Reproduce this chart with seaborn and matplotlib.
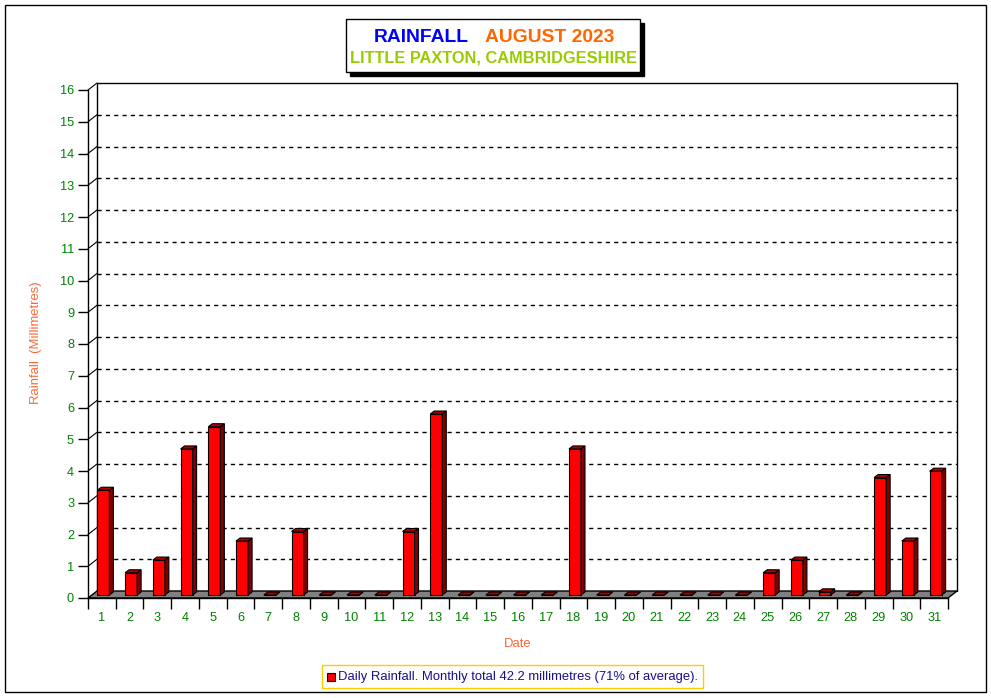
import numpy as np
import pandas as pd
import seaborn as sns
import matplotlib.pyplot as plt
from matplotlib.patches import Polygon, Rectangle

# daily rainfall, August 2023 (mm)
days = list(range(1, 32))
rain = [3.3, 0.7, 1.1, 4.6, 5.3, 1.7, 0.0, 2.0, 0.0, 0.0, 0.0, 2.0, 5.7, 0.0, 0.0, 0.0,
        0.0, 4.6, 0.0, 0.0, 0.0, 0.0, 0.0, 0.0, 0.7, 1.1, 0.1, 0.0, 3.7, 1.7, 3.9]
yticks = list(range(0, 17))
title_main = "RAINFALL"
title_month = "AUGUST 2023"
title_place = "LITTLE PAXTON, CAMBRIDGESHIRE"
legend_text = "Daily Rainfall. Monthly total 42.2 millimetres (71% of average)."
ylabel = "Rainfall  (Millimetres)"
xlabel = "Date"

sns.set_theme(style="white")
plt.rcParams['font.family'] = ['Liberation Sans', 'DejaVu Sans']

W, H = 991, 698
fig = plt.figure(figsize=(W / 100, H / 100), dpi=100)
fig.patch.set_facecolor("white")

def fx(x):
  return x / W

def fy(y):
  return 1 - y / H

# front face of the plot in pixels
L, R, B, T = 88, 948, 598, 90
ax = fig.add_axes([fx(L), fy(B), (R - L) / W, (B - T) / H])
ax.set_facecolor("none")
nx = len(days)
ax.set_xlim(-0.5, nx - 0.5)
ax.set_ylim(0, 16)
px = nx / (R - L)   # data units per pixel
py = 16 / (B - T)
wx, wy = 9 * px, 7 * py   # wall depth
bx, by = 4 * px, 3 * py   # bar depth

df = pd.DataFrame({"day": days, "rain": rain})
sns.barplot(data=df, x="day", y="rain", color="#ff0000", saturation=1,
            width=12 * px, edgecolor="black", linewidth=0.8, ax=ax, zorder=4)

# push bars back into the floor and add side / top faces
for p in ax.patches:
  p.set_x(p.get_x() + 1.5 * px)
  p.set_y(p.get_y() + 3 * py)
  x0, y0 = p.get_x(), p.get_y()
  x1, y1 = x0 + p.get_width(), y0 + p.get_height()
  side = Polygon([(x1, y0), (x1 + bx, y0 + by), (x1 + bx, y1 + by), (x1, y1)],
                 closed=True, facecolor="#800000", edgecolor="black", lw=0.8, zorder=4)
  top = Polygon([(x0, y1), (x0 + bx, y1 + by), (x1 + bx, y1 + by), (x1, y1)],
                closed=True, facecolor="#b00000", edgecolor="black", lw=0.8, zorder=4)
  ax.add_patch(side)
  ax.add_patch(top)

# floor
xa, xb = -0.5, nx - 0.5
floor = Polygon([(xa, 0), (xb, 0), (xb + wx, wy), (xa + wx, wy)], closed=True,
                facecolor="#808080", edgecolor="black", lw=1, zorder=2, clip_on=False)
ax.add_patch(floor)

# back wall and grid
kw = dict(color="black", lw=1, clip_on=False, zorder=1)
ax.plot([xa + wx, xa + wx], [wy, 16 + wy], **kw)
ax.plot([xa + wx, xb + wx], [16 + wy, 16 + wy], **kw)
ax.plot([xb + wx, xb + wx], [16 + wy, wy], **kw)
for v in yticks[1:]:
  ax.plot([xa, xa + wx], [v, v + wy], color="black", lw=0.8, clip_on=False, zorder=1)
for v in yticks[1:-1]:
  ax.plot([xa + wx, xb + wx], [v + wy, v + wy], color="black", lw=1,
          dashes=(3, 3), clip_on=False, zorder=1)

# axes, ticks
for s in ["top", "right"]:
  ax.spines[s].set_visible(False)
for s in ["left", "bottom"]:
  ax.spines[s].set_color("black")
  ax.spines[s].set_linewidth(1)
ax.set_yticks(yticks)
ax.set_yticklabels([str(v) for v in yticks])
ax.set_xticks(range(nx))
ax.set_xticklabels([str(d) for d in days])
ax.set_xticks(np.arange(-0.5, nx), minor=True)
ax.tick_params(axis="y", which="major", direction="out", length=7, width=1,
               color="black", labelcolor="#008000", labelsize=9.2, pad=3, left=True)
ax.tick_params(axis="x", which="major", length=0, labelcolor="#008000",
               labelsize=9.2, pad=10)
ax.tick_params(axis="x", which="minor", direction="out", length=8, width=1,
               color="black", bottom=True)
ax.set_xlabel("")
ax.set_ylabel("")
ax.grid(False)

fig.text(fx(518), fy(644), xlabel, color="#ff6633", fontsize=9.4, ha="center", va="center")
fig.text(fx(36), fy(343), ylabel, color="#ff6633", fontsize=9.4, ha="center",
         va="center", rotation=90)

# outer border
fig.patches.append(Rectangle((fx(5), fy(692)), (986 - 5) / W, (692 - 5) / H,
                             transform=fig.transFigure, fill=False, edgecolor="black",
                             lw=1, zorder=0))

# title box with shadow
bx0, by0, bx1, by1 = 346, 19, 640, 72
fig.patches.append(Rectangle((fx(bx0 + 4), fy(by1 + 4)), (bx1 - bx0) / W, (by1 - by0) / H,
                             transform=fig.transFigure, facecolor="black",
                             edgecolor="black", zorder=1))
fig.patches.append(Rectangle((fx(bx0), fy(by1)), (bx1 - bx0) / W, (by1 - by0) / H,
                             transform=fig.transFigure, facecolor="white",
                             edgecolor="black", lw=1, zorder=2))
fig.text(fx(421.5), fy(37), title_main, color="#0000ff", fontsize=13.9,
         fontweight="bold", ha="center", va="center", zorder=3)
fig.text(fx(550), fy(37), title_month, color="#ff6600", fontsize=13.9,
         fontweight="bold", ha="center", va="center", zorder=3)
fig.text(fx(493), fy(58), title_place, color="#99cc00", fontsize=11.8,
         fontweight="bold", ha="center", va="center", zorder=3)

# legend box
fig.patches.append(Rectangle((fx(322), fy(688)), (703 - 322) / W, (688 - 665) / H,
                             transform=fig.transFigure, facecolor="white",
                             edgecolor="#ffcc00", lw=1, zorder=2))
fig.patches.append(Rectangle((fx(327), fy(681)), 8 / W, 8 / H,
                             transform=fig.transFigure, facecolor="#ff0000",
                             edgecolor="black", lw=0.8, zorder=3))
fig.text(fx(338), fy(677), legend_text, color="#1a0f8c", fontsize=9.4,
         ha="left", va="center", zorder=3)

fig.savefig("out.png", dpi=100)
